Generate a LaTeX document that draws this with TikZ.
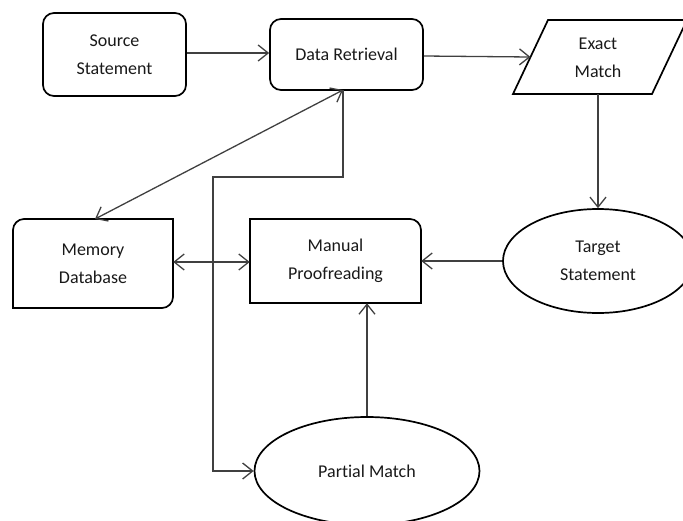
\documentclass[tikz,border=0pt]{standalone}
\usepackage{fontspec}
\setmainfont{Carlito}[Ligatures=NoCommon]
\usetikzlibrary{arrows.meta,shapes.geometric}
\begin{document}
\begin{tikzpicture}[x=1pt,y=-1pt,
  txt/.style={align=center,font=\fontsize{18}{28}\selectfont,inner sep=0pt,text=black!90},
  box/.style={txt,draw,line width=1.7pt,rounded corners=11pt},
  outl/.style={draw,line width=1.7pt},
  conn/.style={line width=1.3pt,draw=black!75,-{Straight Barb[length=10pt,width=16pt,line width=1.3pt]}},
  dconn/.style={conn,{Straight Barb[length=10pt,width=16pt,line width=1.3pt]}-{Straight Barb[length=10pt,width=16pt,line width=1.3pt]}}]
\useasboundingbox (0,0) rectangle (683,520);

% nodes
\node[box,minimum width=143pt,minimum height=83pt] (src) at (114.5,54.5) {Source\\Statement};
\node[box,minimum width=153pt,minimum height=71pt] (dr) at (346.5,54.5) {Data Retrieval};

\draw[outl] (548,20) -- (687,20) -- (652,94) -- (513,94) -- cycle;
\node[txt] (em) at (598,58) {Exact\\Match};
\coordinate (emw) at (530.5,57);
\coordinate (ems) at (598,94);

\node[txt,outl,ellipse,minimum width=190pt,minimum height=104pt] (ts) at (598,261) {Target\\Statement};

\node[txt,minimum width=171pt,minimum height=84pt] (mp) at (335.5,261) {Manual\\Proofreading};
\draw[outl] (250,303) -- (250,219) -- (410,219) .. controls (416,219) and (421,224) .. (421,230) -- (421,303) -- cycle;

\node[txt,minimum width=160pt,minimum height=89pt] (md) at (93,263.5) {Memory\\Database};
\draw[outl] (13,308) -- (13,230) .. controls (13,224) and (18,219) .. (24,219) -- (173,219) -- (173,297) .. controls (173,303) and (168,308) .. (162,308) -- cycle;

\node[txt,outl,ellipse,minimum width=225pt,minimum height=108pt] (pm) at (367,471) {Partial Match};

\coordinate (drb) at (343,90);
\coordinate (mdt) at (95,219);
\coordinate (c1) at (343,177);
\coordinate (c2) at (213,177);

% connectors
\draw[conn] (src.east |- 0,53) -- (dr.west |- 0,53);
\draw[conn] (dr.east |- 0,56) -- (emw);
\draw[conn] (ems) -- (ts.north);
\draw[conn] (ts.west) -- (mp.east);
\draw[dconn] (md.east |- 0,262) -- (mp.west |- 0,262);
\draw[dconn] (mdt) -- (drb);
\draw[conn] (drb) -- (c1) -- (c2) |- (pm.west);
\draw[conn] (pm.north) -- (pm.north |- mp.south);
\end{tikzpicture}
\end{document}
